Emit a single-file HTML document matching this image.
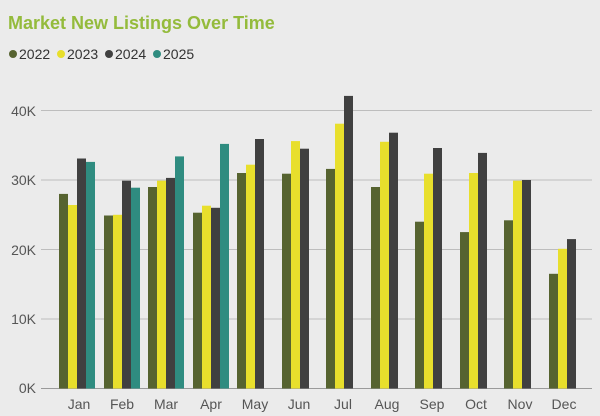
<!DOCTYPE html>
<html><head><meta charset="utf-8"><style>
html,body{margin:0;padding:0;background:#ebebeb;}
svg{display:block;font-family:"Liberation Sans",sans-serif;}
</style></head><body>
<svg width="600" height="416" viewBox="0 0 600 416">
<rect width="600" height="416" fill="#ebebeb"/>
<text x="8" y="29" font-size="18" font-weight="bold" fill="#94bb3c">Market New Listings Over Time</text>
<g font-size="14" fill="#333">
<circle cx="13" cy="54" r="4" fill="#566330"/><text x="19" y="59">2022</text>
<circle cx="61" cy="54" r="4" fill="#e8df2c"/><text x="67" y="59">2023</text>
<circle cx="109" cy="54" r="4" fill="#404040"/><text x="115" y="59">2024</text>
<circle cx="157" cy="54" r="4" fill="#2f8c80"/><text x="163" y="59">2025</text>
</g>
<g stroke="#bdbdbd" stroke-width="1">
<line x1="41" x2="592" y1="110.5" y2="110.5"/>
<line x1="41" x2="592" y1="180" y2="180"/>
<line x1="41" x2="592" y1="249.5" y2="249.5"/>
<line x1="41" x2="592" y1="319" y2="319"/>
</g>
<g font-size="14" fill="#555" text-anchor="end">
<text x="36" y="116">40K</text><text x="36" y="185">30K</text><text x="36" y="255">20K</text><text x="36" y="324">10K</text><text x="36" y="393">0K</text>
</g>
<g id="bars"></g>
<line x1="41" x2="592" y1="388.5" y2="388.5" stroke="#9a9a9a"/>
<g font-size="14" fill="#555" text-anchor="middle">
<text x="79" y="409">Jan</text><text x="122" y="409">Feb</text><text x="166" y="409">Mar</text><text x="211" y="409">Apr</text><text x="255" y="409">May</text><text x="299" y="409">Jun</text><text x="343" y="409">Jul</text><text x="387" y="409">Aug</text><text x="432" y="409">Sep</text><text x="476" y="409">Oct</text><text x="520" y="409">Nov</text><text x="564" y="409">Dec</text>
</g>
<g>
<!-- bars generated inline -->
<rect x="59" y="193.9" width="9" height="194.6" fill="#566330"/><rect x="68" y="205" width="9" height="183.5" fill="#e8df2c"/><rect x="77" y="158.5" width="9" height="230" fill="#404040"/><rect x="86" y="161.9" width="9" height="226.6" fill="#2f8c80"/>
<rect x="104" y="215.5" width="9" height="173" fill="#566330"/><rect x="113" y="214.8" width="9" height="173.7" fill="#e8df2c"/><rect x="122" y="180.7" width="9" height="207.8" fill="#404040"/><rect x="131" y="187.7" width="9" height="200.8" fill="#2f8c80"/>
<rect x="148" y="187" width="9" height="201.5" fill="#566330"/><rect x="157" y="180.7" width="9" height="207.8" fill="#e8df2c"/><rect x="166" y="177.9" width="9" height="210.6" fill="#404040"/><rect x="175" y="156.4" width="9" height="232.1" fill="#2f8c80"/>
<rect x="193" y="212.7" width="9" height="175.8" fill="#566330"/><rect x="202" y="205.7" width="9" height="182.8" fill="#e8df2c"/><rect x="211" y="207.8" width="9" height="180.7" fill="#404040"/><rect x="220" y="143.9" width="9" height="244.6" fill="#2f8c80"/>
<rect x="237" y="173" width="9" height="215.5" fill="#566330"/><rect x="246" y="164.7" width="9" height="223.8" fill="#e8df2c"/><rect x="255" y="139" width="9" height="249.5" fill="#404040"/>
<rect x="282" y="173.7" width="9" height="214.8" fill="#566330"/><rect x="291" y="141.1" width="9" height="247.4" fill="#e8df2c"/><rect x="300" y="148.7" width="9" height="239.8" fill="#404040"/>
<rect x="326" y="168.9" width="9" height="219.6" fill="#566330"/><rect x="335" y="123.7" width="9" height="264.8" fill="#e8df2c"/><rect x="344" y="95.9" width="9" height="292.6" fill="#404040"/>
<rect x="371" y="187" width="9" height="201.5" fill="#566330"/><rect x="380" y="141.8" width="9" height="246.7" fill="#e8df2c"/><rect x="389" y="132.7" width="9" height="255.8" fill="#404040"/>
<rect x="415" y="221.7" width="9" height="166.8" fill="#566330"/><rect x="424" y="173.7" width="9" height="214.8" fill="#e8df2c"/><rect x="433" y="148" width="9" height="240.5" fill="#404040"/>
<rect x="460" y="232.1" width="9" height="156.4" fill="#566330"/><rect x="469" y="173" width="9" height="215.5" fill="#e8df2c"/><rect x="478" y="152.9" width="9" height="235.6" fill="#404040"/>
<rect x="504" y="220.3" width="9" height="168.2" fill="#566330"/><rect x="513" y="180.7" width="9" height="207.8" fill="#e8df2c"/><rect x="522" y="180" width="9" height="208.5" fill="#404040"/>
<rect x="549" y="273.8" width="9" height="114.7" fill="#566330"/><rect x="558" y="248.8" width="9" height="139.7" fill="#e8df2c"/><rect x="567" y="239.1" width="9" height="149.4" fill="#404040"/>
</g>
</svg>
</body></html>
